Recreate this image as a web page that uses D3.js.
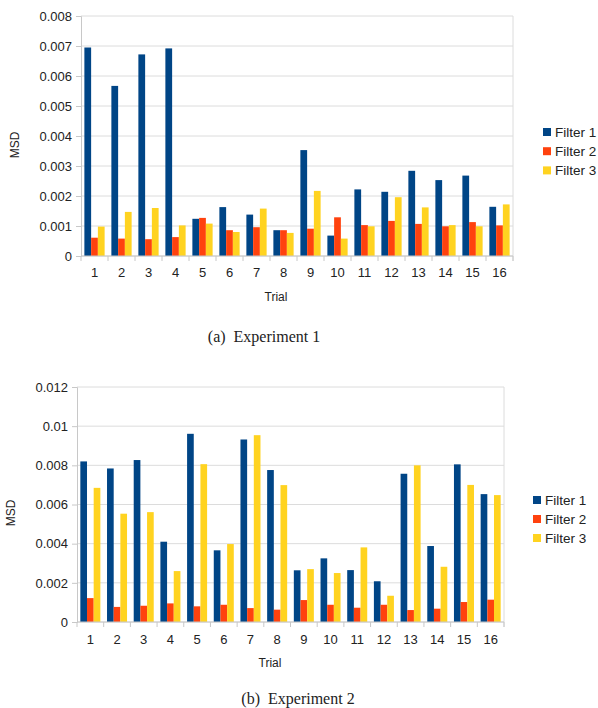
<!DOCTYPE html>
<html>
<head>
<meta charset="utf-8">
<script src="https://cdn.jsdelivr.net/npm/d3@7"></script>
<style>
  body { margin: 0; background: #fff; }
  text { font-family: "Liberation Sans", Arial, sans-serif; fill: #222; }
</style>
</head>
<body>
<div id="chart"></div>
<script>
var trials = ["1","2","3","4","5","6","7","8","9","10","11","12","13","14","15","16"];
var series = ["Filter 1", "Filter 2", "Filter 3"];
var colors = ["#004586", "#ff420e", "#ffd320"];

// Experiment 1
var exp1Filter1 = [0.00695, 0.00567, 0.00672, 0.00692, 0.00124, 0.00163, 0.00138, 0.00086, 0.00353, 0.00068, 0.00222, 0.00214, 0.00284, 0.00253, 0.00268, 0.00164];
var exp1Filter2 = [0.00061, 0.00058, 0.00056, 0.00063, 0.00127, 0.00086, 0.00096, 0.00086, 0.00091, 0.00129, 0.00103, 0.00117, 0.00107, 0.00099, 0.00113, 0.00102];
var exp1Filter3 = [0.00098, 0.00147, 0.00160, 0.00102, 0.00108, 0.00080, 0.00158, 0.00077, 0.00217, 0.00058, 0.00099, 0.00196, 0.00162, 0.00103, 0.00099, 0.00172];
var exp1Ticks = [0, 0.001, 0.002, 0.003, 0.004, 0.005, 0.006, 0.007, 0.008];

// Experiment 2
var exp2Filter1 = [0.0082, 0.00784, 0.00827, 0.0041, 0.00961, 0.00366, 0.00932, 0.00776, 0.00264, 0.00325, 0.00265, 0.00208, 0.00757, 0.00388, 0.00805, 0.00653];
var exp2Filter2 = [0.00122, 0.00077, 0.00083, 0.00095, 0.00080, 0.00088, 0.00071, 0.00063, 0.00112, 0.00088, 0.00073, 0.00088, 0.00061, 0.00068, 0.00102, 0.00114];
var exp2Filter3 = [0.00685, 0.00553, 0.00561, 0.0026, 0.00806, 0.00398, 0.00954, 0.00699, 0.0027, 0.0025, 0.00381, 0.00134, 0.0080, 0.00282, 0.0070, 0.00648];
var exp2Ticks = [0, 0.002, 0.004, 0.006, 0.008, 0.01, 0.012];

var svg = d3.select("#chart").append("svg")
    .attr("width", 598)
    .attr("height", 708);

function fmt(d) { return d === 0 ? "0" : String(+d.toFixed(4)); }

function drawChart(cfg) {
    var g = svg.append("g");
    var values = [cfg.f1, cfg.f2, cfg.f3];

    var x0 = d3.scaleBand()
        .domain(trials)
        .range([cfg.left, cfg.right])
        .paddingInner(0.25)
        .paddingOuter(0.125);
    var x1 = d3.scaleBand()
        .domain([0, 1, 2])
        .range([0, x0.bandwidth()]);
    var y = d3.scaleLinear()
        .domain([0, cfg.ticks[cfg.ticks.length - 1]])
        .range([cfg.bottom, cfg.top]);

    // gridlines
    g.selectAll(".grid")
        .data(cfg.ticks)
        .enter()
        .append("line")
        .attr("x1", cfg.left)
        .attr("x2", cfg.right)
        .attr("y1", function (d) { return y(d); })
        .attr("y2", function (d) { return y(d); })
        .attr("stroke", "#dcdcdc")
        .attr("stroke-width", 1);

    // right border
    g.append("line")
        .attr("x1", cfg.right).attr("x2", cfg.right)
        .attr("y1", cfg.top).attr("y2", cfg.bottom + 5)
        .attr("stroke", "#dcdcdc");

    // bars
    values.forEach(function (vals, s) {
        g.selectAll(".bar" + s)
            .data(vals)
            .enter()
            .append("rect")
            .attr("x", function (d, i) { return x0(trials[i]) + x1(s); })
            .attr("y", function (d) { return y(d); })
            .attr("width", x1.bandwidth())
            .attr("height", function (d) { return cfg.bottom - y(d); })
            .attr("fill", colors[s]);
    });

    // y axis
    var yAxis = g.append("g")
        .attr("transform", "translate(" + cfg.left + ",0)")
        .call(d3.axisLeft(y).tickValues(cfg.ticks).tickFormat(fmt).tickSize(5).tickPadding(4));
    yAxis.select(".domain").attr("stroke", "#c8c8c8");
    yAxis.selectAll(".tick line").attr("stroke", "#c8c8c8");
    yAxis.selectAll("text").style("font-size", "13px").attr("fill", "#222")
        .style("font-family", "'Liberation Sans', Arial, sans-serif");

    // x axis: boundary ticks
    var bounds = trials.map(function (t) { return x0(t) - x0.step() * 0.125; });
    bounds.push(cfg.right);
    g.selectAll(".xtick")
        .data(bounds)
        .enter()
        .append("line")
        .attr("x1", function (d) { return d; })
        .attr("x2", function (d) { return d; })
        .attr("y1", cfg.bottom)
        .attr("y2", cfg.bottom + 5)
        .attr("stroke", "#c8c8c8");
    g.append("line")
        .attr("x1", cfg.left).attr("x2", cfg.right)
        .attr("y1", cfg.bottom).attr("y2", cfg.bottom)
        .attr("stroke", "#c8c8c8");

    var xAxis = g.append("g")
        .attr("transform", "translate(0," + cfg.bottom + ")")
        .call(d3.axisBottom(x0).tickSize(0).tickPadding(cfg.xPad));
    xAxis.select(".domain").remove();
    xAxis.selectAll("text").style("font-size", "13px").attr("fill", "#222")
        .style("font-family", "'Liberation Sans', Arial, sans-serif");

    // axis titles
    g.append("text")
        .attr("transform", "translate(" + cfg.msdX + "," + cfg.msdY + ") rotate(-90)")
        .attr("text-anchor", "middle")
        .attr("dominant-baseline", "middle")
        .style("font-size", "12px")
        .text("MSD");
    g.append("text")
        .attr("x", cfg.trialX)
        .attr("y", cfg.trialY)
        .attr("text-anchor", "middle")
        .attr("dominant-baseline", "middle")
        .style("font-size", "12px")
        .text("Trial");

    // legend
    series.forEach(function (name, i) {
        g.append("rect")
            .attr("x", cfg.legX)
            .attr("y", cfg.legY + i * cfg.legStep - 4)
            .attr("width", 8)
            .attr("height", 8)
            .attr("fill", colors[i]);
        g.append("text")
            .attr("x", cfg.legX + 12)
            .attr("y", cfg.legY + i * cfg.legStep)
            .attr("dominant-baseline", "central")
            .style("font-size", "13.5px")
            .text(name);
    });

    // caption
    g.append("text")
        .attr("x", cfg.capX)
        .attr("y", cfg.capY)
        .attr("text-anchor", "middle")
        .attr("xml:space", "preserve")
        .style("font-family", "'Liberation Serif', 'Times New Roman', serif")
        .style("font-size", "16px")
        .attr("fill", "#111")
        .text(cfg.caption);
}

drawChart({
    f1: exp1Filter1, f2: exp1Filter2, f3: exp1Filter3, ticks: exp1Ticks,
    left: 81, right: 513, top: 16, bottom: 256, xPad: 12,
    msdX: 16, msdY: 145, trialX: 276, trialY: 298,
    legX: 543, legY: 132, legStep: 19.2,
    capX: 264, capY: 342, caption: "(a)  Experiment 1"
});

drawChart({
    f1: exp2Filter1, f2: exp2Filter2, f3: exp2Filter3, ticks: exp2Ticks,
    left: 77, right: 504, top: 387, bottom: 622, xPad: 13,
    msdX: 12, msdY: 513, trialX: 270, trialY: 664,
    legX: 533, legY: 500, legStep: 19,
    capX: 298, capY: 704, caption: "(b)  Experiment 2"
});
</script>
</body>
</html>
